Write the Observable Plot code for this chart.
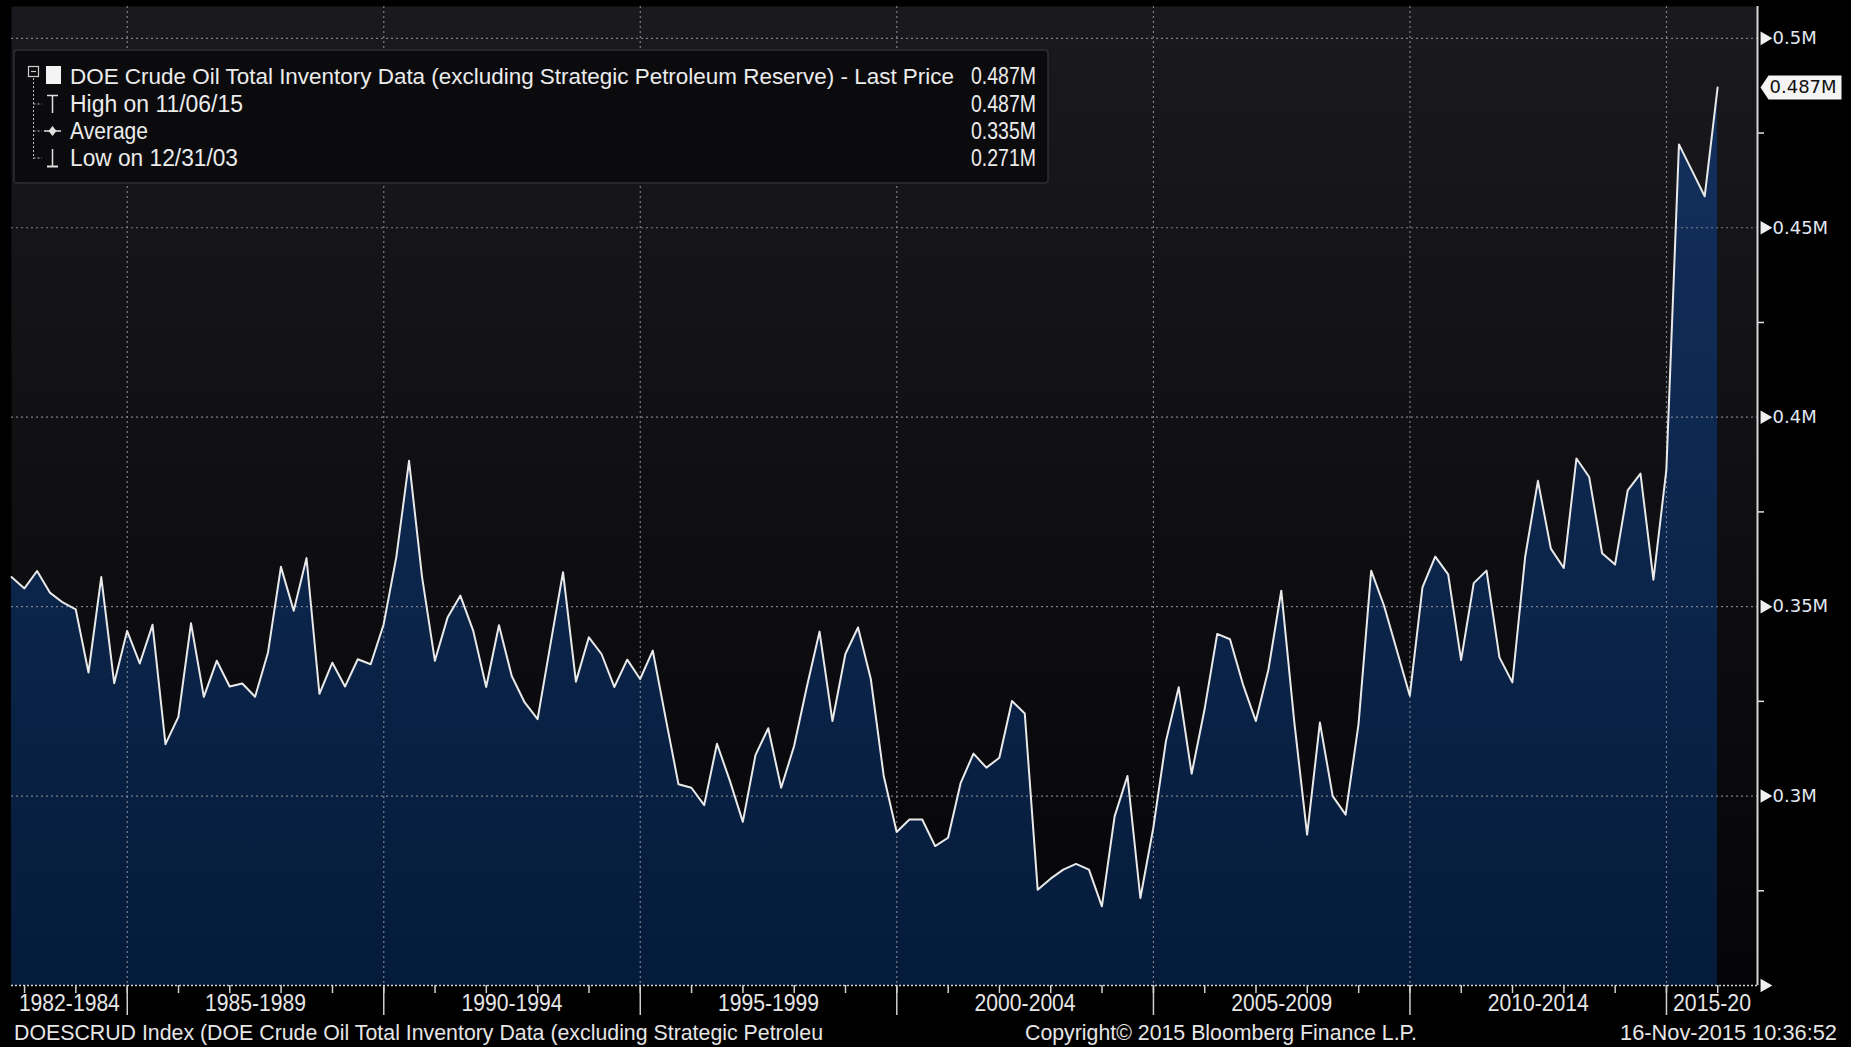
<!DOCTYPE html>
<html>
<head>
<meta charset="utf-8">
<script src="https://cdn.jsdelivr.net/npm/d3@7"></script>
<script src="https://cdn.jsdelivr.net/npm/@observablehq/plot@0.6"></script>
<style>
  html, body { margin: 0; padding: 0; background: #000; }
  #wrap { position: relative; width: 1851px; height: 1047px; overflow: hidden; background: #000; }
  #chart svg { display: block; }
  #overlay { position: absolute; left: 0; top: 0; pointer-events: none; }
  .nar { font-family: "Liberation Sans Narrow", "Arial Narrow", "Liberation Sans", sans-serif; }
</style>
</head>
<body>
<div id="wrap">
  <div id="chart"></div>
  <svg id="overlay" width="1851" height="1047"></svg>
</div>
<script>
// ---------------- data ----------------
const seriesTitle = "DOE Crude Oil Total Inventory Data (excluding Strategic Petroleum Reserve) - Last Price";
const firstQuarterStart = "1982-07-01"; // first quarter plotted: Q3 1982 (quarter-end values)
const inventory = [
  0.3578, 0.3548, 0.3594, 0.3537, 0.3511, 0.3493, 0.3326, 0.3578, 0.3298, 0.3436,
  0.3350, 0.3452, 0.3137, 0.3209, 0.3456, 0.3262, 0.3357, 0.3289, 0.3297, 0.3262,
  0.3379, 0.3605, 0.3489, 0.3628, 0.3270, 0.3352, 0.3289, 0.3361, 0.3348, 0.3453,
  0.3630, 0.3885, 0.3580, 0.3357, 0.3471, 0.3529, 0.3436, 0.3288, 0.3451, 0.3317,
  0.3247, 0.3203, 0.3397, 0.3591, 0.3302, 0.3419, 0.3375, 0.3288, 0.3360, 0.3309,
  0.3384, 0.3207, 0.3031, 0.3022, 0.2976, 0.3138, 0.3040, 0.2932, 0.3108, 0.3179,
  0.3022, 0.3132, 0.3287, 0.3434, 0.3198, 0.3375, 0.3445, 0.3309, 0.3053, 0.2905,
  0.2938, 0.2938, 0.2868, 0.2890, 0.3035, 0.3112, 0.3075, 0.3101, 0.3251, 0.3218,
  0.2753, 0.2782, 0.2806, 0.2821, 0.2806, 0.2709, 0.2947, 0.3053, 0.2731, 0.2916,
  0.3145, 0.3287, 0.3059, 0.3229, 0.3428, 0.3414, 0.3295, 0.3198, 0.3335, 0.3542,
  0.3198, 0.2898, 0.3194, 0.3000, 0.2951, 0.3190, 0.3595, 0.3503, 0.3384, 0.3265,
  0.3551, 0.3632, 0.3585, 0.3359, 0.3562, 0.3595, 0.3366, 0.3300, 0.3631, 0.3832,
  0.3653, 0.3602, 0.3891, 0.3842, 0.3641, 0.3611, 0.3807, 0.3851, 0.3571, 0.3860,
  0.4720, 0.4652, 0.4583, 0.4870
];
const statLabels = ["High on 11/06/15", "Average", "Low on 12/31/03"];
const statValues = [0.487, 0.335, 0.271];
const lastPrice = 0.487;

const periodLabels = ["1982-1984", "1985-1989", "1990-1994", "1995-1999", "2000-2004", "2005-2009", "2010-2014", "2015-20"];
const periodStartYears = [1982, 1985, 1990, 1995, 2000, 2005, 2010, 2015];
const periodEndYears   = [1985, 1990, 1995, 2000, 2005, 2010, 2015, 2020];

const yMajorTicks = [0.3, 0.35, 0.4, 0.45, 0.5];
const yTickLabels = ["0.3M", "0.35M", "0.4M", "0.45M", "0.5M"];
const yMinorTicks = [0.275, 0.325, 0.375, 0.425, 0.475];
const yBottom = 0.25;
const yTop = 0.5084;

const footerLeft = "DOESCRUD Index (DOE Crude Oil Total Inventory Data (excluding Strategic Petroleu";
const footerMid = "Copyright\u00A9 2015 Bloomberg Finance L.P.";
const footerRight = "16-Nov-2015 10:36:52";

// ---------------- build ----------------
const q0 = new Date(firstQuarterStart + "T00:00:00Z");
const rows = inventory.map((v, i) => ({
  date: d3.utcDay.offset(d3.utcMonth.offset(q0, 3 * (i + 1)), -1),
  value: v
}));
const xStart = rows[0].date;
const xEnd = new Date(Date.UTC(2016, 9, 10));
const yearDate = y => new Date(Date.UTC(y, 0, 1));
const gridDates = periodStartYears.slice(1).map(yearDate);
const minorYears = d3.range(1983, 2017).map(yearDate);
const labelRows = periodLabels.map((t, i) => {
  const a = Math.max(+yearDate(periodStartYears[i]), +xStart);
  const b = Math.min(+yearDate(periodEndYears[i]), +xEnd);
  return {text: t, date: new Date((a + b) / 2)};
});

const NARROW = '"Liberation Sans Narrow", "Arial Narrow", "Liberation Sans", sans-serif';

function defs() {
  const d = document.createElementNS("http://www.w3.org/2000/svg", "defs");
  d.innerHTML = `
    <linearGradient id="bgGrad" x1="0" y1="0" x2="0" y2="1">
      <stop offset="0" stop-color="#1a1a1e"/>
      <stop offset="1" stop-color="#050507"/>
    </linearGradient>
    <linearGradient id="areaGrad" gradientUnits="userSpaceOnUse" x1="0" y1="6" x2="0" y2="985">
      <stop offset="0" stop-color="#143260"/>
      <stop offset="1" stop-color="#051b3a"/>
    </linearGradient>`;
  return d;
}

const tagSymbol = {
  draw(ctx) {
    ctx.moveTo(3, 0);
    ctx.lineTo(11, -12);
    ctx.lineTo(84, -12);
    ctx.lineTo(84, 12);
    ctx.lineTo(11, 12);
    ctx.closePath();
  }
};

const chart = Plot.plot({
  width: 1851,
  height: 1020,
  marginLeft: 11,
  marginRight: 94,
  marginTop: 6,
  marginBottom: 35,
  style: {background: "transparent", color: "#dddddd", fontFamily: "DejaVu Sans", fontSize: "18px", overflow: "visible"},
  x: {type: "utc", domain: [xStart, xEnd], axis: null},
  y: {domain: [yBottom, yTop], axis: null},
  marks: [
    defs,
    Plot.frame({fill: "url(#bgGrad)", stroke: "none"}),
    Plot.areaY(rows, {x: "date", y1: () => yBottom, y2: "value", fill: "url(#areaGrad)"}),
    Plot.ruleY(yMajorTicks, {stroke: "#8e919e", strokeOpacity: 0.85, strokeDasharray: "2,3", strokeWidth: 1.2}),
    Plot.ruleX(gridDates, {stroke: "#8e919e", strokeOpacity: 0.85, strokeDasharray: "2,3", strokeWidth: 1.2}),
    Plot.ruleY([yBottom], {stroke: "#d8d8d8", strokeDasharray: "2,2", strokeWidth: 1.5}),
    Plot.lineY(rows, {x: "date", y: "value", stroke: "#e9e9e9", strokeWidth: 2}),
    // right axis line
    Plot.ruleX([xEnd], {stroke: "#d6d6d6", strokeWidth: 2}),
    // right axis labels
    Plot.axisY(yMajorTicks, {anchor: "right", label: null, tickSize: 0, tickPadding: 15, tickFormat: (d, i) => yTickLabels[i],
      fontSize: 18, fontFamily: "DejaVu Sans", fill: "#e2e8f2", textAnchor: "start"}),
    Plot.axisY(yMinorTicks, {anchor: "right", label: null, tickSize: 6, tickFormat: () => "", stroke: "#e0e0e0", strokeWidth: 1.5}),
    Plot.dot([yBottom, ...yMajorTicks], {x: () => xEnd, y: d => d, symbol: "triangle2", rotate: 90, r: 6.5, dx: 7, fill: "#f0f0f0"}),
    // last price tag
    Plot.dot([lastPrice], {x: () => xEnd, y: d => d, symbol: tagSymbol, fill: "#f4f4f4", stroke: "none"}),
    Plot.text([lastPrice], {x: () => xEnd, y: d => d, text: d => d3.format(".3f")(d) + "M", dx: 12, textAnchor: "start",
      fontSize: 18, fontFamily: "DejaVu Sans", fill: "#111"}),
    // bottom axis ticks
    Plot.axisX(gridDates, {anchor: "bottom", label: null, tickSize: 30, tickFormat: () => "", stroke: "#cfcfcf", strokeWidth: 1.5}),
    Plot.axisX(minorYears, {anchor: "bottom", label: null, tickSize: 8, tickFormat: () => "", stroke: "#cfcfcf", strokeWidth: 1.5}),
    Plot.text(labelRows, {x: "date", y: () => yBottom, text: "text", dy: 18, fontSize: 24, fontFamily: NARROW, fill: "#e6e6e6"})
  ]
});
document.getElementById("chart").appendChild(chart);

// squeeze the condensed x labels to the reference widths
d3.select(chart).selectAll("text").each(function() {
  const t = this.textContent;
  if (periodLabels.includes(t)) {
    this.setAttribute("textLength", t.length === 9 ? 101 : 78);
    this.setAttribute("lengthAdjust", "spacingAndGlyphs");
  }
});

// ---------------- legend box & footer (overlay) ----------------
const ov = d3.select("#overlay");
function ntext(x, y, str, width, anchor = "start", fill = "#ececec", size = 23) {
  return ov.append("text").attr("class", "nar").attr("x", x).attr("y", y).attr("font-size", size)
    .attr("fill", fill).attr("text-anchor", anchor)
    .attr("textLength", width).attr("lengthAdjust", "spacingAndGlyphs").text(str);
}
ov.append("rect").attr("x", 14).attr("y", 50).attr("width", 1034).attr("height", 133).attr("rx", 3)
  .attr("fill", "#0b0b0e").attr("stroke", "#2e2e33").attr("stroke-width", 1.5);
// tree icons
ov.append("rect").attr("x", 28.5).attr("y", 66.5).attr("width", 10).attr("height", 10).attr("fill", "none").attr("stroke", "#cfcfcf").attr("stroke-width", 1.2);
ov.append("line").attr("x1", 31).attr("x2", 36).attr("y1", 71.5).attr("y2", 71.5).attr("stroke", "#cfcfcf").attr("stroke-width", 1.2);
ov.append("rect").attr("x", 46).attr("y", 66).attr("width", 15).attr("height", 18).attr("fill", "#f4f4f4");
ov.append("line").attr("x1", 33.5).attr("x2", 33.5).attr("y1", 78).attr("y2", 159).attr("stroke", "#bdbdbd").attr("stroke-dasharray", "2,2");
[104, 131, 158].forEach(y => ov.append("line").attr("x1", 33.5).attr("x2", 42).attr("y1", y).attr("y2", y).attr("stroke", "#bdbdbd").attr("stroke-dasharray", "2,2"));
// high icon (T)
ov.append("line").attr("x1", 47).attr("x2", 58).attr("y1", 95.5).attr("y2", 95.5).attr("stroke", "#e0e0e0").attr("stroke-width", 1.5);
ov.append("line").attr("x1", 52.5).attr("x2", 52.5).attr("y1", 95).attr("y2", 113).attr("stroke", "#e0e0e0").attr("stroke-width", 1.5);
// average icon
ov.append("line").attr("x1", 44).attr("x2", 61).attr("y1", 131).attr("y2", 131).attr("stroke", "#e0e0e0").attr("stroke-width", 1.5);
ov.append("path").attr("d", "M52.5,126 L56.5,131 L52.5,136 L48.5,131 Z").attr("fill", "#e0e0e0");
// low icon
ov.append("line").attr("x1", 52.5).attr("x2", 52.5).attr("y1", 149).attr("y2", 166).attr("stroke", "#e0e0e0").attr("stroke-width", 1.5);
ov.append("line").attr("x1", 47).attr("x2", 58).attr("y1", 166.5).attr("y2", 166.5).attr("stroke", "#e0e0e0").attr("stroke-width", 2);

const legTexts = [seriesTitle, ...statLabels];
const legWidths = [884, 173, 78, 168];
const legVals = [lastPrice, ...statValues];
const baseY = [83.5, 112, 139, 166];
legTexts.forEach((t, i) => {
  ntext(70, baseY[i], t, legWidths[i], "start", "#ececec", i === 0 ? 21.5 : 23);
  ntext(1036, baseY[i], d3.format(".3f")(legVals[i]) + "M", 65, "end");
});
// footer
ntext(14, 1040, footerLeft, 809, "start", "#e6e6e6", 22);
ntext(1025, 1040, footerMid, 392, "start", "#e6e6e6", 22);
ntext(1837, 1040, footerRight, 217, "end", "#e6e6e6", 22);
</script>
</body>
</html>
